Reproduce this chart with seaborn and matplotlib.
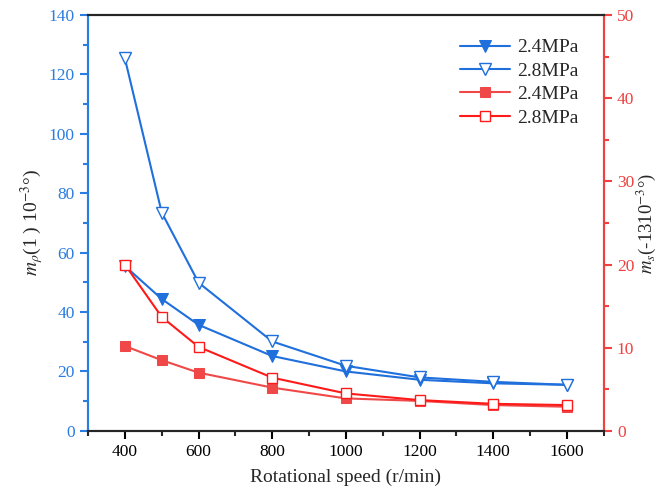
import matplotlib
matplotlib.use("Agg")
import matplotlib.pyplot as plt
import seaborn as sns
import numpy as np
from matplotlib.ticker import MultipleLocator, AutoMinorLocator

sns.set_style("ticks")
plt.rcParams['font.family'] = ['Liberation Serif', 'DejaVu Serif']
plt.rcParams['mathtext.fontset'] = 'stix'

speed = [400, 500, 600, 800, 1000, 1200, 1400, 1600]
blue_24 = [55.5, 44.4, 35.7, 25.2, 20.0, 17.2, 16.0, 15.5]
blue_28 = [125.4, 73.5, 49.9, 30.1, 21.9, 18.0, 16.5, 15.5]
red_24 = [10.2, 8.5, 7.0, 5.2, 3.9, 3.6, 3.1, 2.9]
red_28 = [20.0, 13.7, 10.1, 6.4, 4.5, 3.7, 3.25, 3.1]

blue = '#1f6fdc'
blue_ax = '#2a7de1'
red = '#ff1a1a'
red_l = '#f04848'
red_ax = '#f04040'

fig = plt.figure(figsize=(6.62, 5.01), dpi=100)
ax = fig.add_axes([0.133, 0.14, 0.779, 0.83])
ax2 = ax.twinx()

sns.lineplot(x=speed, y=blue_24, ax=ax, color=blue, marker='v', markersize=9,
             markerfacecolor=blue, markeredgecolor=blue, linewidth=1.5, label='2.4MPa', legend=False)
sns.lineplot(x=speed, y=blue_28, ax=ax, color=blue, marker='v', markersize=9,
             markerfacecolor='white', markeredgecolor=blue, markeredgewidth=1.0, linewidth=1.5, label='2.8MPa', legend=False)
sns.lineplot(x=speed, y=red_24, ax=ax2, color=red_l, marker='s', markersize=7.5,
             markerfacecolor=red_l, markeredgecolor=red_l, linewidth=1.5, label='2.4MPa', legend=False)
sns.lineplot(x=speed, y=red_28, ax=ax2, color=red, marker='s', markersize=7.5,
             markerfacecolor='white', markeredgecolor=red, markeredgewidth=1.0, linewidth=1.5, label='2.8MPa', legend=False)

ax.set_xlim(300, 1700)
ax.set_ylim(0, 140)
ax2.set_ylim(0, 50)
ax.xaxis.set_major_locator(MultipleLocator(200))
ax.xaxis.set_minor_locator(AutoMinorLocator(2))
ax.yaxis.set_major_locator(MultipleLocator(20))
ax.yaxis.set_minor_locator(AutoMinorLocator(2))
ax2.yaxis.set_major_locator(MultipleLocator(10))
ax2.yaxis.set_minor_locator(AutoMinorLocator(2))

for a in (ax, ax2):
    for s in a.spines.values():
        s.set_linewidth(1.5)
        s.set_visible(True)
ax.spines['left'].set_color(blue_ax)
ax2.spines['left'].set_color(blue_ax)
ax2.spines['right'].set_color(red_ax)
ax.spines['right'].set_color(red_ax)
ax.spines['top'].set_color('black')
ax.spines['bottom'].set_color('black')

ax.tick_params(axis='x', which='major', length=6, width=1.5, labelsize=12.5, colors='black', direction='out')
ax.tick_params(axis='x', which='minor', length=3.5, width=1.5, direction='out')
ax.tick_params(axis='y', which='major', length=6, width=1.5, labelsize=12.5, colors=blue_ax, direction='out')
ax.tick_params(axis='y', which='minor', length=3.5, width=1.5, colors=blue_ax, direction='out')
ax2.tick_params(axis='y', which='major', length=6, width=1.5, labelsize=12.5, colors=red_ax, direction='out')
ax2.tick_params(axis='y', which='minor', length=3.5, width=1.5, colors=red_ax, direction='out')

ax.set_xlabel('Rotational speed (r/min)', fontsize=14, labelpad=6)
ax.set_ylabel(r'$m_\rho$(1 ) 10$^{-3}$°)', fontsize=14, labelpad=2)
ax2.set_ylabel(r'$m_s$(-1310$^{-3}$°)', fontsize=13.5, labelpad=0)

h1, l1 = ax.get_legend_handles_labels()
h2, l2 = ax2.get_legend_handles_labels()
ax2.legend(h1 + h2, l1 + l2, loc='upper right', bbox_to_anchor=(0.985, 0.985), frameon=False,
           fontsize=14, handlelength=2.6, labelspacing=0.3, handletextpad=0.35)

fig.savefig('out.png', dpi=100)
